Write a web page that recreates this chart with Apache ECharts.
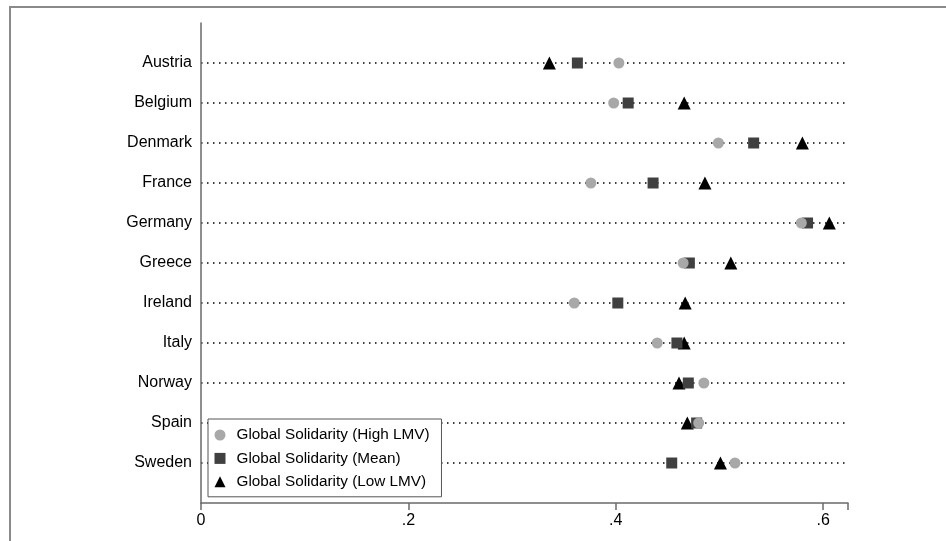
<!DOCTYPE html>
<html>
<head>
<meta charset="utf-8">
<script src="https://cdn.jsdelivr.net/npm/echarts@6/dist/echarts.min.js"></script>
<style>html,body{margin:0;padding:0;background:#fff}#c{width:946px;height:541px}</style>
</head>
<body>
<div id="c"></div>
<script>
var countries = ['Austria','Belgium','Denmark','France','Germany','Greece','Ireland','Italy','Norway','Spain','Sweden'];
var highLMV = [0.403, 0.398, 0.499, 0.376, 0.579, 0.465, 0.360, 0.440, 0.485, 0.480, 0.515];
var meanVals = [0.363, 0.412, 0.533, 0.436, 0.585, 0.471, 0.402, 0.459, 0.470, 0.478, 0.454];
var lowLMV = [0.336, 0.466, 0.580, 0.486, 0.606, 0.511, 0.467, 0.466, 0.461, 0.469, 0.501];
var xTicks = [0, 0.2, 0.4, 0.6];
var seriesNames = ['Global Solidarity (High LMV)','Global Solidarity (Mean)','Global Solidarity (Low LMV)'];

function pts(arr){ return arr.map(function(v,i){ return [v, i+1]; }); }
var font = '"Liberation Sans", Arial, sans-serif';
var chart = echarts.init(document.getElementById('c'), null, {renderer:'canvas'});
chart.setOption({
  animation:false,
  backgroundColor:'#fff',
  graphic:[{type:'rect', shape:{x:10,y:7,width:1200,height:1000}, style:{fill:'none', stroke:'#8a8a8a', lineWidth:2}, silent:true}],
  grid:{left:201, top:23, right:98, bottom:38, containLabel:false},
  xAxis:{type:'value', position:'bottom', min:0, max:0.624, interval:0.2,
    axisLine:{show:true, onZero:false, lineStyle:{color:'#6a6a6a', width:1.5}},
    axisTick:{show:true, length:7, lineStyle:{color:'#6a6a6a', width:1.5}},
    axisLabel:{fontFamily:font, fontSize:16, color:'#000', margin:10,
      formatter:function(v){ for (var k=0;k<xTicks.length;k++){ if (Math.abs(v-xTicks[k])<1e-6) return v===0?'0':String(xTicks[k]).replace(/^0/,''); } return ''; }},
    splitLine:{show:false}},
  yAxis:{type:'value', inverse:true, min:0, max:12, interval:1,
    axisLine:{show:true, onZero:false, lineStyle:{color:'#6a6a6a', width:1.5}},
    axisTick:{show:false},
    axisLabel:{fontFamily:font, fontSize:16, color:'#000', margin:9,
      formatter:function(v){ return (v>=1 && v<=countries.length && Math.abs(v-Math.round(v))<1e-6) ? countries[Math.round(v)-1] : ''; }},
    splitLine:{show:true, showMinLine:false, showMaxLine:false, lineStyle:{color:'#000', width:1.5, type:[1.5,4.5]}}},
  legend:{left:208, top:419, orient:'vertical', itemGap:7.4, itemWidth:11, itemHeight:11,
    padding:[8,12,7,6.5], borderColor:'#555', borderWidth:1, backgroundColor:'#fff',
    data:[{name:seriesNames[0], icon:'circle', itemStyle:{}},{name:seriesNames[1], icon:'rect'},{name:seriesNames[2], icon:'triangle'}],
    textStyle:{fontFamily:font, fontSize:15.3, lineHeight:16, color:'#000', padding:[0,0,0,6]}},
  series:[
    {name:seriesNames[2], type:'scatter', symbol:'triangle', symbolSize:13, data:pts(lowLMV), itemStyle:{color:'#000', opacity:1}, z:2},
    {name:seriesNames[1], type:'scatter', symbol:'rect', symbolSize:11, data:pts(meanVals), itemStyle:{color:'#404040', opacity:1}, z:3},
    {name:seriesNames[0], type:'scatter', symbol:'circle', symbolSize:11, data:pts(highLMV), itemStyle:{color:'#a8a8a8', opacity:1}, z:4}
  ]
});
</script>
</body>
</html>
